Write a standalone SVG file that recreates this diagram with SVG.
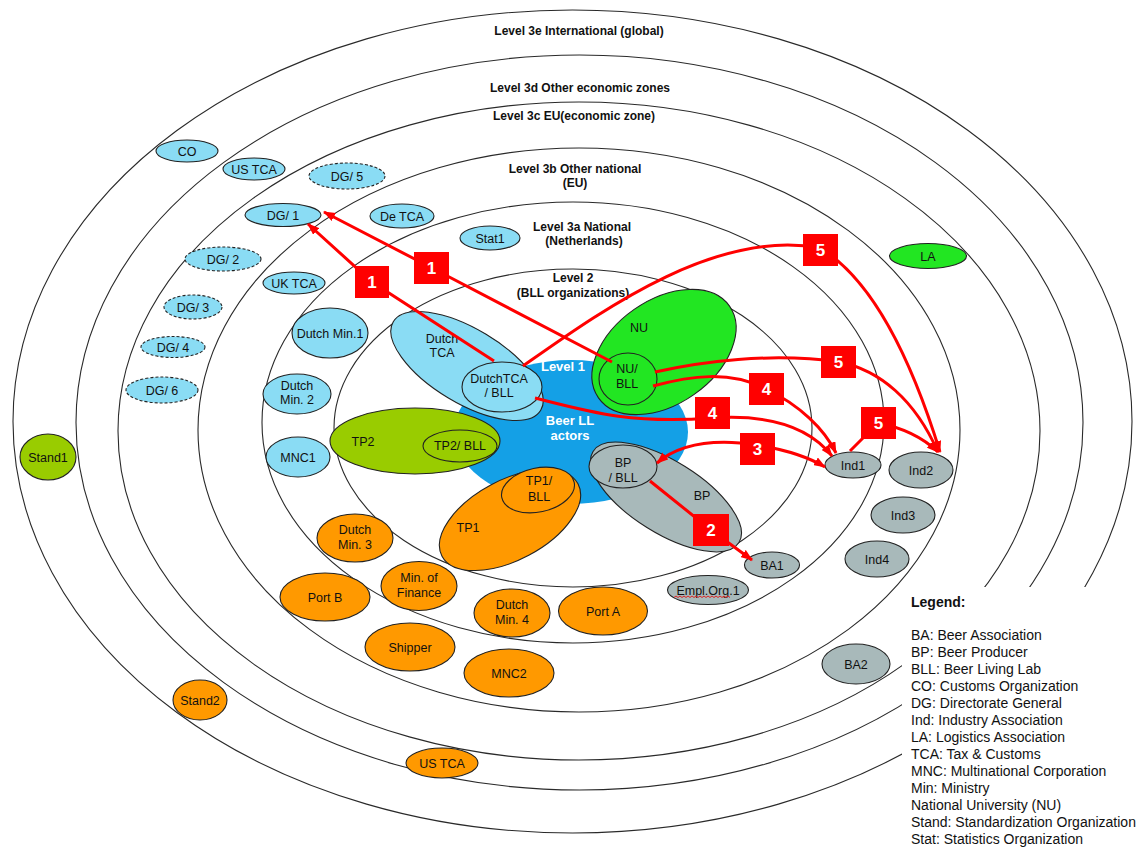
<svg xmlns="http://www.w3.org/2000/svg" width="1143" height="847" viewBox="0 0 1143 847">
<style>
.ring{fill:none;stroke:#2a2a2a;stroke-width:1.1}
.n{stroke:#222;stroke-width:1.1}
.lb{fill:#8adcf4}
.dash{stroke-dasharray:3 2}
.or{fill:#ff9900}
.gy{fill:#a8b9ba}
.yg{fill:#99cc00}
.gn{fill:#22e622}
.bl{fill:#14a0e6;stroke:none}
text{font-family:"Liberation Sans",Arial,sans-serif}
.t{font-size:12.5px;fill:#111;text-anchor:middle}
.w{font-size:13px;fill:#fff;text-anchor:middle;font-weight:bold}
.lvl{font-size:12px;font-weight:bold;fill:#111;text-anchor:middle}
.c{fill:none;stroke:#f00;stroke-width:3}
.bx{fill:#f00}
.num{font-size:17px;font-weight:bold;fill:#fff;text-anchor:middle}
.leg{font-size:14px;fill:#111}
</style>
<defs>
<marker id="ah" viewBox="0 0 12 9" refX="11" refY="4.5" markerWidth="12" markerHeight="9" markerUnits="userSpaceOnUse" orient="auto-start-reverse">
<path d="M0,0 L12,4.5 L0,9 z" fill="#f00"/>
</marker>
</defs>
<rect width="1143" height="847" fill="#fff"/>
<g id="rings">
<ellipse class="ring" cx="572.5" cy="421.5" rx="559.5" ry="411.5"/>
<ellipse class="ring" cx="579.5" cy="422.5" rx="503.5" ry="367.5"/>
<ellipse class="ring" cx="579" cy="431" rx="461" ry="329"/>
<ellipse class="ring" cx="579" cy="430" rx="381" ry="282"/>
<ellipse class="ring" cx="573" cy="422.5" rx="311" ry="220.5"/>
<ellipse class="ring" cx="573" cy="428" rx="239" ry="159"/>
<rect x="902" y="587" width="241" height="260" fill="#fff"/>
</g>
<g id="level-labels">
<text class="lvl" x="579" y="35">Level 3e International (global)</text>
<text class="lvl" x="580" y="92">Level 3d Other economic zones</text>
<text class="lvl" x="574" y="120">Level 3c EU(economic zone)</text>
<text class="lvl" x="575" y="173">Level 3b Other national</text>
<text class="lvl" x="575" y="187">(EU)</text>
<text class="lvl" x="582" y="231">Level 3a National</text>
<text class="lvl" x="584" y="245">(Netherlands)</text>
<text class="lvl" x="573" y="282">Level 2</text>
<text class="lvl" x="573" y="297">(BLL organizations)</text>
</g>
<g id="n-co"><ellipse class="n lb" cx="187" cy="151" rx="31" ry="11"/><text class="t" x="187" y="155.5">CO</text></g>
<g id="n-ustca1"><ellipse class="n lb" cx="254" cy="169" rx="31" ry="11"/><text class="t" x="254" y="173.5">US TCA</text></g>
<g id="n-dg5"><ellipse class="n lb dash" cx="347" cy="176" rx="38" ry="13"/><text class="t" x="347" y="180.5">DG/ 5</text></g>
<g id="n-dg1"><ellipse class="n lb" cx="283" cy="215" rx="38" ry="11.5"/><text class="t" x="283" y="219.5">DG/ 1</text></g>
<g id="n-detca"><ellipse class="n lb" cx="402" cy="216" rx="32" ry="12"/><text class="t" x="402" y="220.5">De TCA</text></g>
<g id="n-stat1"><ellipse class="n lb" cx="490" cy="238" rx="30" ry="12"/><text class="t" x="490" y="242.5">Stat1</text></g>
<g id="n-dg2"><ellipse class="n lb dash" cx="223" cy="259" rx="38" ry="12"/><text class="t" x="223" y="263.5">DG/ 2</text></g>
<g id="n-uktca"><ellipse class="n lb" cx="294" cy="283" rx="31" ry="11"/><text class="t" x="294" y="287.5">UK TCA</text></g>
<g id="n-dg3"><ellipse class="n lb dash" cx="193" cy="307" rx="29" ry="12"/><text class="t" x="193" y="311.5">DG/ 3</text></g>
<g id="n-dg4"><ellipse class="n lb dash" cx="173" cy="347" rx="32" ry="10.5"/><text class="t" x="173" y="351.5">DG/ 4</text></g>
<g id="n-dg6"><ellipse class="n lb dash" cx="162" cy="390" rx="36" ry="13"/><text class="t" x="162" y="394.5">DG/ 6</text></g>
<g id="n-dmin1"><ellipse class="n lb" cx="330" cy="333" rx="38" ry="25"/><text class="t" x="330" y="337.5">Dutch Min.1</text></g>
<g id="n-dmin2"><ellipse class="n lb" cx="297" cy="394" rx="34" ry="20"/><text class="t" x="297" y="390">Dutch</text><text class="t" x="297" y="404">Min. 2</text></g>
<g id="n-mnc1"><ellipse class="n lb" cx="298" cy="457" rx="32" ry="20"/><text class="t" x="298" y="461.5">MNC1</text></g>
<g id="n-stand1"><ellipse class="n yg" cx="48" cy="457" rx="28" ry="23"/><text class="t" x="48" y="461.5">Stand1</text></g>
<g id="n-level1"><ellipse class="bl" cx="571" cy="432" rx="117" ry="72"/><text class="w" x="563" y="371">Level 1</text><text class="w" x="570" y="425">Beer LL</text><text class="w" x="570" y="440">actors</text></g>
<g id="n-dutchtca"><ellipse class="n lb" cx="467" cy="366" rx="86" ry="37" transform="rotate(31 467 366)"/><text class="t" x="442" y="343">Dutch</text><text class="t" x="442" y="357">TCA</text></g>
<g id="n-dutchtca-bll"><ellipse class="n lb" cx="502" cy="387" rx="40" ry="25"/><text class="t" x="499" y="383">DutchTCA</text><text class="t" x="499" y="397">/ BLL</text></g>
<g id="n-tp2"><ellipse class="n yg" cx="415" cy="441" rx="85" ry="33"/><text class="t" x="363" y="446">TP2</text></g>
<g id="n-tp2-bll"><ellipse class="n yg" cx="460" cy="446" rx="37" ry="16"/><text class="t" x="460" y="450">TP2/ BLL</text></g>
<g id="n-nu"><ellipse class="n gn" cx="664" cy="352" rx="80" ry="52" transform="rotate(-35 664 352)"/><text class="t" x="639" y="332">NU</text></g>
<g id="n-nu-bll"><ellipse class="n gn" cx="628" cy="379" rx="29" ry="26"/><text class="t" x="627" y="373">NU/</text><text class="t" x="627" y="388">BLL</text></g>
<g id="n-bp"><ellipse class="n gy" cx="666" cy="497" rx="86" ry="36" transform="rotate(32 666 497)"/><text class="t" x="702" y="500">BP</text></g>
<g id="n-bp-bll"><ellipse class="n gy" cx="623" cy="466.5" rx="34" ry="21.5"/><text class="t" x="623" y="467">BP</text><text class="t" x="623" y="482">/ BLL</text></g>
<g id="n-tp1"><ellipse class="n or" cx="510" cy="520" rx="77" ry="40" transform="rotate(-28 510 520)"/><text class="t" x="468" y="532">TP1</text></g>
<g id="n-tp1-bll"><ellipse class="n or" cx="538" cy="490" rx="37" ry="22" transform="rotate(-12 538 490)"/><text class="t" x="539" y="485">TP1/</text><text class="t" x="539" y="501">BLL</text></g>
<g id="n-dmin3"><ellipse class="n or" cx="355" cy="538" rx="38" ry="24"/><text class="t" x="355" y="534">Dutch</text><text class="t" x="355" y="549">Min. 3</text></g>
<g id="n-portb"><ellipse class="n or" cx="325" cy="597" rx="45" ry="24"/><text class="t" x="325" y="601.5">Port B</text></g>
<g id="n-minfin"><ellipse class="n or" cx="419" cy="586" rx="38" ry="24.5"/><text class="t" x="419" y="582">Min. of</text><text class="t" x="419" y="597">Finance</text></g>
<g id="n-shipper"><ellipse class="n or" cx="410" cy="647" rx="45" ry="24"/><text class="t" x="410" y="651.5">Shipper</text></g>
<g id="n-stand2"><ellipse class="n or" cx="200" cy="700" rx="27" ry="20"/><text class="t" x="200" y="704.5">Stand2</text></g>
<g id="n-ustca2"><ellipse class="n or" cx="442" cy="763" rx="36" ry="15"/><text class="t" x="442" y="767.5">US TCA</text></g>
<g id="n-dmin4"><ellipse class="n or" cx="512" cy="613" rx="38" ry="24"/><text class="t" x="512" y="609">Dutch</text><text class="t" x="512" y="624">Min. 4</text></g>
<g id="n-porta"><ellipse class="n or" cx="603" cy="611" rx="44.5" ry="24"/><text class="t" x="603" y="615.5">Port A</text></g>
<g id="n-mnc2"><ellipse class="n or" cx="509" cy="673" rx="45" ry="24"/><text class="t" x="509" y="677.5">MNC2</text></g>
<g id="n-emplorg1"><ellipse class="n gy" cx="708" cy="590" rx="40.5" ry="14.5"/><text class="t" x="708" y="594.5">Empl.Org.1</text><path d="M674,597.5 l2,-1.5 l2,1.5 l2,-1.5 l2,1.5 l2,-1.5 l2,1.5 l2,-1.5 l2,1.5 l2,-1.5 l2,1.5 l2,-1.5 l2,1.5 l2,-1.5 l2,1.5 l2,-1.5 l2,1.5 l2,-1.5 l2,1.5 l2,-1.5 l2,1.5 l2,-1.5 l2,1.5 l2,-1.5 l2,1.5 l2,-1.5 l2,1.5 l2,-1.5 l2,1.5" fill="none" stroke="#d22" stroke-width="1"/></g>
<g id="n-ba1"><ellipse class="n gy" cx="772" cy="565" rx="27.5" ry="13"/><text class="t" x="772" y="569.5">BA1</text></g>
<g id="n-ind1"><ellipse class="n gy" cx="853" cy="465" rx="28" ry="13"/><text class="t" x="853" y="469.5">Ind1</text></g>
<g id="n-ind2"><ellipse class="n gy" cx="921" cy="470" rx="32" ry="18"/><text class="t" x="921" y="474.5">Ind2</text></g>
<g id="n-ind3"><ellipse class="n gy" cx="903" cy="515" rx="32" ry="18"/><text class="t" x="903" y="519.5">Ind3</text></g>
<g id="n-ind4"><ellipse class="n gy" cx="877" cy="559" rx="32" ry="18"/><text class="t" x="877" y="563.5">Ind4</text></g>
<g id="n-ba2"><ellipse class="n gy" cx="856" cy="664" rx="34" ry="20"/><text class="t" x="856" y="668.5">BA2</text></g>
<g id="n-la"><ellipse class="n gn" cx="928" cy="256" rx="38.5" ry="12.5"/><text class="t" x="928" y="260.5">LA</text></g>
<g id="connectors">
<path class="c" d="M494,361 L372,282 L308,224" marker-end="url(#ah)"/>
<path class="c" d="M612,362 L432,268 L324,212" marker-end="url(#ah)"/>
<path class="c" d="M523,366 C600,312 715,228 820,248 Q890,290 940,452" marker-end="url(#ah)"/>
<path class="c" d="M655,372 C700,362 770,352 839,362 C880,370 915,400 938,452" marker-end="url(#ah)"/>
<path class="c" d="M653,386 C690,376 730,370 766,389 C800,405 825,430 836,453" marker-end="url(#ah)"/>
<path class="c" d="M535,398 C590,412 630,424 712,418 C770,414 810,428 832,456" marker-end="url(#ah)"/>
<path class="c" d="M657,463 Q690,435 757,445 Q800,452 825,467" marker-start="url(#ah)" marker-end="url(#ah)"/>
<path class="c" d="M850,451 L878,423 Q915,430 938,452" marker-end="url(#ah)"/>
<path class="c" d="M650,481 L711,530 L752,560" marker-end="url(#ah)"/>
<rect class="bx" x="355" y="266" width="34" height="32"/><text class="num" x="372" y="288">1</text>
<rect class="bx" x="414" y="252" width="35" height="32"/><text class="num" x="431.5" y="274">1</text>
<rect class="bx" x="803" y="234" width="35" height="32"/><text class="num" x="820.5" y="256">5</text>
<rect class="bx" x="821" y="346" width="35" height="32"/><text class="num" x="838.5" y="368">5</text>
<rect class="bx" x="749" y="373" width="35" height="32"/><text class="num" x="766.5" y="395">4</text>
<rect class="bx" x="695" y="397" width="35" height="32"/><text class="num" x="712.5" y="419">4</text>
<rect class="bx" x="740" y="433" width="35" height="32"/><text class="num" x="757.5" y="455">3</text>
<rect class="bx" x="861" y="407" width="35" height="32"/><text class="num" x="878.5" y="429">5</text>
<rect class="bx" x="693" y="514" width="36" height="32"/><text class="num" x="711" y="536">2</text>
</g>
<g id="legend">
<text class="leg" x="911" y="607" font-weight="bold">Legend:</text>
<text class="leg" x="911" y="640">BA: Beer Association</text>
<text class="leg" x="911" y="657">BP: Beer Producer</text>
<text class="leg" x="911" y="674">BLL: Beer Living Lab</text>
<text class="leg" x="911" y="691">CO: Customs Organization</text>
<text class="leg" x="911" y="708">DG: Directorate General</text>
<text class="leg" x="911" y="725">Ind: Industry Association</text>
<text class="leg" x="911" y="742">LA: Logistics Association</text>
<text class="leg" x="911" y="759">TCA: Tax &amp; Customs</text>
<text class="leg" x="911" y="776">MNC: Multinational Corporation</text>
<text class="leg" x="911" y="793">Min: Ministry</text>
<text class="leg" x="911" y="810">National University (NU)</text>
<text class="leg" x="911" y="827">Stand: Standardization Organization</text>
<text class="leg" x="911" y="844">Stat: Statistics Organization</text>
</g>
</svg>
